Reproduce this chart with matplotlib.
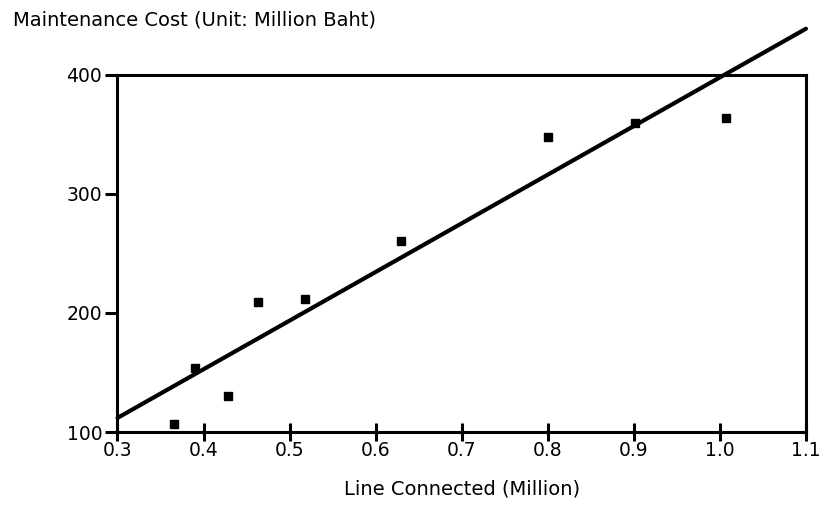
import numpy as np
import matplotlib
matplotlib.use('agg')
import matplotlib.pyplot as plt

# Lines connected (million) vs. maintenance cost (million baht)
lines_connected = np.array([0.366, 0.390, 0.428, 0.463, 0.518, 0.630, 0.800, 0.901, 1.007])
maint_cost = np.array([106.5, 154.0, 130.5, 209.0, 212.0, 260.5, 348.0, 360.0, 363.5])

# Trend line: cost = slope * lines + intercept
slope = 408.8
intercept = -10.8
line_x = np.array([0.30, 1.10])

x_ticks = [0.3, 0.4, 0.5, 0.6, 0.7, 0.8, 0.9, 1.0, 1.1]
x_ticklabels = ['0.3', '0.4', '0.5', '0.6', '0.7', '0.8', '0.9', '1.0', '1.1']
y_ticks = [100, 200, 300, 400]

plt.rcParams['font.family'] = ['DejaVu Sans']

fig = plt.figure(figsize=(8.21, 5.12), dpi=100)
axe = fig.add_axes([0.1431, 0.15625, 0.8386, 0.6973])

axe.plot(lines_connected, maint_cost, 's', color='black', markersize=6)
axe.plot(line_x, slope * line_x + intercept, '-', color='black',
         linewidth=3, solid_capstyle='round', clip_on=False)

axe.set_xlim(0.3, 1.1)
axe.set_ylim(100, 400)
axe.set_xticks(x_ticks)
axe.set_xticklabels(x_ticklabels)
axe.set_yticks(y_ticks)

axe.tick_params(axis='x', direction='inout', length=13, width=2.2,
                labelsize=13.5, pad=0)
axe.tick_params(axis='y', direction='out', length=9, width=2.2,
                labelsize=13.5, pad=2)
for side in ['top', 'bottom', 'left', 'right']:
    axe.spines[side].set_linewidth(2.2)

axe.set_xlabel('Line Connected (Million)', fontsize=14, labelpad=14)
fig.text(0.016, 0.961, 'Maintenance Cost (Unit: Million Baht)',
         fontsize=14, ha='left', va='center')

plt.savefig('out.png', dpi=100)
